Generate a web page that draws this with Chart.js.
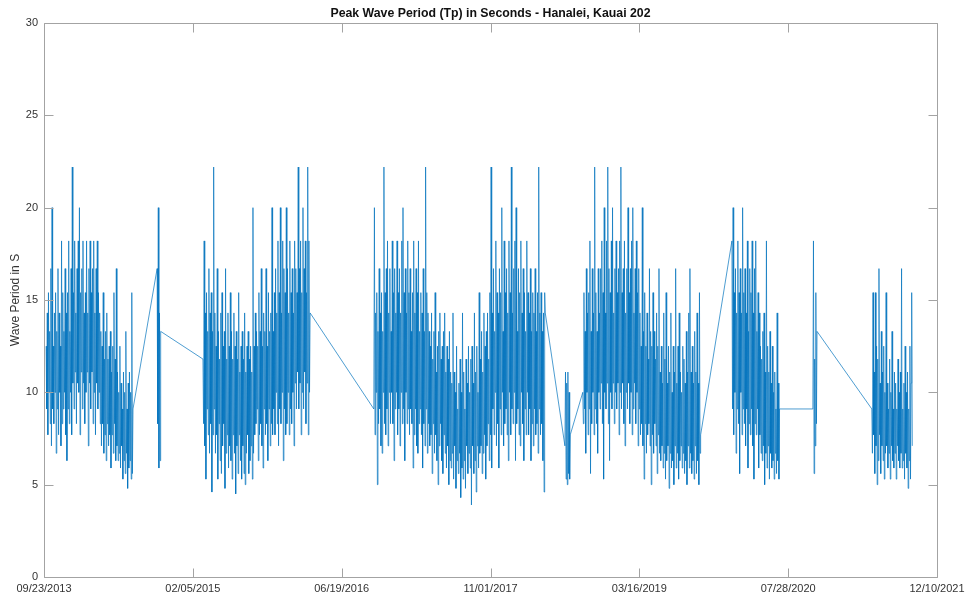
<!DOCTYPE html>
<html>
<head>
<meta charset="utf-8">
<title>Peak Wave Period (Tp) - Hanalei, Kauai 202</title>
<script src="https://cdn.jsdelivr.net/npm/chart.js@4.4.1/dist/chart.umd.min.js"></script>
<style>
    html, body { margin: 0; padding: 0; background: #fff; }
    #wrap { width: 972px; height: 602px; }
</style>
</head>
<body>
<div id="wrap"><canvas id="tpChart" width="972" height="602"></canvas></div>
<script>
// ============================================================================
// Peak wave period, buoy 202 (Hanalei, Kauai)
// x = days since 09/23/2013, y = Tp in seconds
// ============================================================================

const titleText = 'Peak Wave Period (Tp) in Seconds - Hanalei, Kauai 202';
const yAxisLabel = 'Wave Period in S';

const xTickDays = [0, 500, 1000, 1500, 2000, 2500, 3000];
const xTickLabels = ['09/23/2013', '02/05/2015', '06/19/2016', '11/01/2017', '03/16/2019', '07/28/2020', '12/10/2021'];
const yTicks = [0, 5, 10, 15, 20, 25, 30];

// Record is split into runs where the buoy was out; MATLAB just joins them with a line.
// Each run: first day, sampling step (days), Tp values
const run1Start = 7, run1Step = 2;
const run1Values = [
    12.5, 9.1, 14.3, 7.7, 15.4, 10, 13.3, 8.3, 16.7, 7.1,
    20, 9.1, 12.5, 8.3, 14.3, 10, 15.4, 6.7, 13.3, 9.1,
    16.7, 7.7, 14.3, 10, 12.5, 7.1, 18.2, 8.3, 15.4, 9.1,
    13.3, 10, 16.7, 7.7, 14.3, 6.3, 15.4, 9.1, 18.2, 8.3,
    13.3, 10, 16.7, 7.7, 22.2, 10.5, 15.4, 9.1, 18.2, 11.1,
    14.3, 8.3, 16.7, 10.5, 18.2, 10, 20, 7.7, 15.4, 11.1,
    16.7, 9.1, 18.2, 10.5, 14.3, 8.3, 15.4, 10, 18.2, 11.1,
    14.3, 7.1, 16.7, 10.5, 18.2, 9.1, 15.4, 11.1, 16.7, 8.3,
    18.2, 10, 14.3, 7.7, 16.7, 10.5, 18.2, 9.1, 15.4, 10,
    14.3, 8.3, 13.3, 7.1, 12.5, 8.3, 15.4, 6.7, 11.8, 7.7,
    13.3, 6.3, 14.3, 8.3, 11.8, 7.1, 12.5, 7.7, 13.3, 5.9,
    11.1, 7.7, 12.5, 6.7, 15.4, 8.3, 11.8, 6.3, 16.7, 7.1,
    11.1, 6.3, 10, 6.7, 12.5, 5.9, 10.5, 7.1, 9.1, 5.3,
    11.1, 6.3, 10, 5.6, 13.3, 6.7, 9.1, 4.8, 10.5, 5.9,
    11.1, 6.3, 10, 5.3, 15.4, 5.6, 9.1];

const run2Start = 380, run2Step = 2;
const run2Values = [16.7, 8.3, 20, 5.9, 14.3, 6.3, 13.3];

const run3Start = 534, run3Step = 2;
const run3Values = [
    11.8, 8.3, 18.2, 7.1, 14.3, 5.3, 15.4, 9.1, 13.3, 7.7,
    16.7, 6.7, 14.3, 8.3, 15.4, 4.6, 13.3, 7.7, 22.2, 9.1,
    14.3, 6.7, 12.5, 7.7, 16.7, 5.3, 13.3, 8.3, 11.8, 6.3,
    14.3, 5.6, 15.4, 7.1, 12.5, 8.3, 13.3, 4.8, 16.7, 6.7,
    11.8, 7.7, 14.3, 5.9, 12.5, 7.1, 15.4, 6.3, 13.3, 5.3,
    11.8, 7.7, 14.3, 6.7, 12.5, 4.5, 13.3, 7.1, 11.8, 5.6,
    15.4, 7.7, 11.1, 6.3, 12.5, 5.3, 13.3, 7.1, 11.8, 5.6,
    14.3, 5.0, 11.1, 6.7, 12.5, 7.7, 13.3, 5.6, 11.8, 6.3,
    12.5, 7.1, 11.1, 5.3, 20, 6.7, 12.5, 7.7, 14.3, 8.3,
    13.3, 9.1, 12.5, 6.3, 15.4, 7.7, 13.3, 8.3, 16.7, 7.1,
    12.5, 5.9, 14.3, 9.1, 13.3, 7.7, 16.7, 8.3, 12.5, 6.3,
    15.4, 9.1, 13.3, 7.1, 14.3, 8.3, 20, 7.7, 13.3, 9.1,
    15.4, 7.7, 16.7, 10, 14.3, 8.3, 18.2, 7.1, 15.4, 9.1,
    20, 8.3, 14.3, 10, 18.2, 6.3, 16.7, 9.1, 15.4, 7.7,
    20, 8.3, 16.7, 10, 14.3, 7.7, 18.2, 9.1, 15.4, 8.3,
    16.7, 10, 14.3, 7.1, 18.2, 10.5, 16.7, 9.1, 15.4, 11.1,
    22.2, 9.1, 16.7, 10.5, 18.2, 7.7, 15.4, 10, 20, 9.1,
    16.7, 11.1, 18.2, 8.3, 15.4, 10.5, 22.2, 7.7, 18.2, 10,
    14.3];

const run4Start = 1108, run4Step = 2;
const run4Values = [
    9.1, 20, 7.7, 14.3, 10, 15.4, 5.0, 13.3, 8.3, 16.7,
    9.1, 14.3, 7.1, 15.4, 6.7, 13.3, 10, 22.2, 8.3, 15.4,
    7.7, 16.7, 9.1, 18.2, 7.1, 14.3, 10, 16.7, 8.3, 13.3,
    10, 18.2, 8.3, 15.4, 6.3, 16.7, 9.1, 14.3, 10, 18.2,
    7.7, 15.4, 9.1, 16.7, 7.1, 14.3, 10, 18.2, 8.3, 20,
    9.1, 15.4, 6.3, 16.7, 10, 14.3, 8.3, 18.2, 9.1, 15.4,
    7.7, 16.7, 9.1, 13.3, 8.3, 15.4, 5.9, 18.2, 7.7, 14.3,
    9.1, 16.7, 7.1, 15.4, 6.7, 18.2, 8.3, 13.3, 9.1, 15.4,
    7.7, 14.3, 5.9, 16.7, 8.3, 13.3, 7.1, 22.2, 9.1, 15.4,
    6.7, 14.3, 8.3, 13.3, 7.1, 12.5, 7.7, 14.3, 5.6, 11.8,
    8.3, 13.3, 6.7, 15.4, 7.7, 11.1, 6.3, 12.5, 5.0, 13.3,
    7.1, 14.3, 8.3, 11.8, 6.3, 12.5, 5.6, 13.3, 7.7, 14.3,
    6.7, 11.1, 5.9, 12.5, 7.1, 11.8, 5.0, 13.3, 6.3, 11.1,
    5.9, 10.5, 6.7, 14.3, 5.3, 11.1, 7.1, 10, 4.8, 12.5,
    6.3, 9.1, 5.6, 10.5, 6.7, 11.8, 4.3, 10, 5.9, 14.3,
    5.3, 11.1, 6.3, 9.1, 4.8, 11.8, 7.1, 10.5, 5.6, 12.5,
    6.7, 10, 5.9, 11.8, 3.9, 12.5, 7.1, 10.5, 5.6, 14.3,
    6.3, 11.1, 4.6, 12.5, 7.1, 10, 5.9, 15.4, 6.7, 11.8,
    7.1, 13.3, 5.6, 11.1, 6.7, 14.3, 7.7, 12.5, 5.3, 13.3,
    7.1, 14.3, 8.3, 11.8, 6.3, 15.4, 7.7, 22.2, 5.9, 14.3,
    9.1, 16.7, 7.7, 13.3, 10, 18.2, 7.1, 15.4, 8.3, 14.3,
    5.9, 16.7, 9.1, 15.4, 7.7, 20, 10, 13.3, 7.1, 18.2,
    8.3, 15.4, 9.1, 16.7, 7.7, 14.3, 6.3, 18.2, 10, 15.4,
    7.7, 22.2, 9.1, 14.3, 8.3, 16.7, 10, 18.2, 6.3, 20,
    8.3, 13.3, 9.1, 16.7, 7.7, 15.4, 7.1, 18.2, 10, 14.3,
    8.3, 16.7, 6.3, 15.4, 9.1, 13.3, 7.7, 18.2, 10, 15.4,
    7.7, 14.3, 9.1, 16.7, 6.3, 13.3, 8.3, 15.4, 7.1, 14.3,
    9.1, 16.7, 7.7, 13.3, 8.3, 15.4, 6.7, 22.2, 9.1, 14.3,
    7.7, 15.4, 8.3, 13.3, 6.3, 14.3, 4.6, 15.4, 14.3];

const run5Start = 1750, run5Step = 2;
const run5Values = [7.1, 11.1, 5.3, 10.5, 5.0, 11.1, 5.6, 10, 5.3, 7.7];

const run6Start = 1810, run6Step = 2;
const run6Values = [
    10, 8.3, 15.4, 9.1, 13.3, 6.7, 16.7, 10, 14.3, 7.7,
    15.4, 9.1, 18.2, 5.6, 13.3, 8.3, 16.7, 10, 14.3, 7.7,
    22.2, 9.1, 15.4, 8.3, 13.3, 6.7, 16.7, 10, 14.3, 9.1,
    16.7, 10.5, 18.2, 8.3, 15.4, 5.3, 20, 10, 14.3, 9.1,
    18.2, 10.5, 22.2, 8.3, 16.7, 6.3, 15.4, 10, 18.2, 9.1,
    20, 10.5, 14.3, 8.3, 16.7, 10, 18.2, 9.1, 15.4, 10.5,
    16.7, 7.7, 18.2, 10, 22.2, 9.1, 15.4, 10.5, 16.7, 8.3,
    18.2, 7.1, 14.3, 10, 16.7, 9.1, 20, 10.5, 15.4, 8.3,
    16.7, 10, 18.2, 7.7, 20, 9.1, 14.3, 10.5, 16.7, 8.3,
    18.2, 10, 15.4, 7.1, 16.7, 9.1, 14.3, 7.7, 12.5, 8.3,
    20, 7.1, 13.3, 5.3, 15.4, 8.3, 12.5, 6.7, 14.3, 7.7,
    11.8, 8.3, 16.7, 7.1, 13.3, 5.0, 12.5, 7.7, 15.4, 6.7,
    13.3, 8.3, 11.8, 7.1, 14.3, 5.6, 12.5, 7.7, 16.7, 6.7,
    11.1, 6.3, 12.5, 7.1, 10.5, 5.9, 14.3, 6.7, 11.8, 5.3,
    15.4, 6.3, 10.5, 7.1, 12.5, 4.8, 11.1, 6.7, 14.3, 5.9,
    10, 6.3, 12.5, 5.0, 11.1, 7.1, 16.7, 5.9, 10.5, 6.7,
    12.5, 5.3, 14.3, 6.3, 11.1, 7.1, 10, 5.9, 12.5, 6.7,
    11.8, 5.6, 10.5, 6.3, 13.3, 5.0, 11.1, 7.1, 14.3, 5.9,
    16.7, 6.7, 11.1, 5.6, 12.5, 6.3, 10.5, 5.3, 13.3, 7.1,
    11.1, 5.6, 14.3, 6.3, 10.5, 5.0, 15.4, 6.7, 7.7];

const run7Start = 2311, run7Step = 2;
const run7Values = [
    18.2, 9.1, 20, 7.7, 15.4, 10, 16.7, 6.7, 14.3, 9.1,
    18.2, 8.3, 15.4, 5.6, 16.7, 10, 14.3, 7.7, 20, 9.1,
    15.4, 8.3, 16.7, 7.1, 14.3, 9.1, 18.2, 5.9, 13.3, 8.3,
    16.7, 7.7, 15.4, 9.1, 18.2, 7.1, 14.3, 5.3, 16.7, 8.3,
    18.2, 7.7, 13.3, 9.1, 15.4, 5.9, 14.3, 7.7, 12.5, 6.7,
    11.8, 6.3, 13.3, 7.1, 14.3, 5.0, 11.1, 6.7, 18.2, 5.9,
    12.5, 7.1, 11.1, 5.3, 13.3, 6.7, 10.5, 5.9, 12.5, 6.3,
    10, 5.3, 11.1, 6.7, 9.1, 5.6, 14.3, 6.3, 10.5, 5.3,
    9.1];

const run8Start = 2583, run8Step = 2;
const run8Values = [9.1, 18.2, 5.6, 11.8, 7.1, 15.4, 8.3, 13.3];

const run9Start = 2781, run9Step = 2;
const run9Values = [
    9.1, 6.7, 15.4, 7.7, 11.1, 5.6, 15.4, 7.1, 12.5, 5.0,
    11.8, 6.3, 16.7, 7.7, 10.5, 5.6, 13.3, 7.1, 11.1, 6.3,
    12.5, 5.3, 10, 6.7, 15.4, 7.1, 10.5, 5.9, 9.1, 6.7,
    11.8, 5.3, 10, 7.1, 13.3, 6.3, 9.1, 5.9, 11.1, 6.7,
    10.5, 5.3, 9.1, 7.1, 11.8, 6.3, 10, 5.9, 11.1, 6.7,
    16.7, 5.9, 9.1, 6.3, 10.5, 5.3, 12.5, 6.7, 10, 5.9,
    11.1, 4.8, 9.1, 6.3, 12.5, 5.3, 10.5, 15.4, 7.1];

const runs = [
    [run1Start, run1Step, run1Values],
    [run2Start, run2Step, run2Values],
    [run3Start, run3Step, run3Values],
    [run4Start, run4Step, run4Values],
    [run5Start, run5Step, run5Values],
    [run6Start, run6Step, run6Values],
    [run7Start, run7Step, run7Values],
    [run8Start, run8Step, run8Values],
    [run9Start, run9Step, run9Values]
];

const points = [];
runs.forEach(([start, step, values]) => {
    values.forEach((v, i) => points.push({ x: start + i * step, y: v }));
});

const FONT = '"Liberation Sans", Arial, Helvetica, sans-serif';

// MATLAB-style box, inward ticks, title and y label
const matlabFrame = {
    id: 'matlabFrame',
    afterDraw(chart) {
        const { ctx, chartArea: a, scales } = chart;
        const L = Math.round(a.left) + 0.5, R = Math.round(a.right) + 0.5;
        const T = Math.round(a.top) + 0.5, B = Math.round(a.bottom) + 0.5;
        ctx.save();
        ctx.strokeStyle = '#a3a3a3';
        ctx.lineWidth = 1;
        ctx.beginPath();
        ctx.rect(L, T, R - L, B - T);
        xTickDays.forEach(d => {
            const px = Math.round(scales.x.getPixelForValue(d)) + 0.5;
            ctx.moveTo(px, B); ctx.lineTo(px, B - 9);
            ctx.moveTo(px, T); ctx.lineTo(px, T + 9);
        });
        yTicks.forEach(v => {
            const py = Math.round(scales.y.getPixelForValue(v)) + 0.5;
            ctx.moveTo(L, py); ctx.lineTo(L + 9, py);
            ctx.moveTo(R, py); ctx.lineTo(R - 9, py);
        });
        ctx.stroke();

        ctx.fillStyle = '#111';
        ctx.font = 'bold 12.3px ' + FONT;
        ctx.textAlign = 'center';
        ctx.textBaseline = 'middle';
        ctx.fillText(titleText, (a.left + a.right) / 2, 14);

        ctx.translate(16, (a.top + a.bottom) / 2);
        ctx.rotate(-Math.PI / 2);
        ctx.fillStyle = '#333';
        ctx.font = '12px ' + FONT;
        ctx.fillText(yAxisLabel, 0, 0);
        ctx.restore();
    }
};

new Chart(document.getElementById('tpChart'), {
    type: 'line',
    data: {
        datasets: [{
            label: 'Tp',
            data: points,
            borderColor: '#0072BD',
            borderWidth: 0.7,
            borderJoinStyle: 'bevel',
            pointRadius: 0,
            tension: 0,
            fill: false
        }]
    },
    options: {
        responsive: false,
        devicePixelRatio: 1,
        animation: false,
        events: [],
        layout: {
            padding: { top: 23, right: 35, bottom: 0, left: 0 }
        },
        plugins: {
            legend: { display: false },
            tooltip: { enabled: false },
            title: { display: false }
        },
        scales: {
            x: {
                type: 'linear',
                min: 0,
                max: 3000,
                afterBuildTicks: (scale) => {
                    scale.ticks = xTickDays.map(v => ({ value: v }));
                },
                afterFit: (scale) => { scale.height = 25; },
                grid: { display: false, drawTicks: false },
                border: { display: false },
                ticks: {
                    autoSkip: false,
                    maxRotation: 0,
                    padding: 5,
                    color: '#333',
                    font: { family: FONT, size: 11 },
                    callback: (value) => xTickLabels[xTickDays.indexOf(value)]
                }
            },
            y: {
                min: 0,
                max: 30,
                afterBuildTicks: (scale) => {
                    scale.ticks = yTicks.map(v => ({ value: v }));
                },
                afterFit: (scale) => { scale.width = 44; },
                grid: { display: false, drawTicks: false },
                border: { display: false },
                ticks: {
                    padding: 6,
                    color: '#333',
                    font: { family: FONT, size: 11 }
                }
            }
        }
    },
    plugins: [matlabFrame]
});
</script>
</body>
</html>
